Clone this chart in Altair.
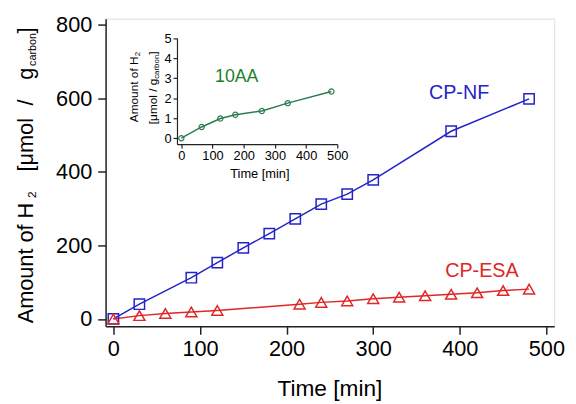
import altair as alt
import pandas as pd

# ---- data ----
nf_time = [0, 30, 90, 120, 150, 180, 210, 240, 270, 300, 390, 480]
nf_h2 = [0, 40, 112, 153, 193, 232, 272, 312, 339, 378, 510, 598]

esa_time = [0, 30, 60, 90, 120, 215, 240, 270, 300, 330, 360, 390, 420, 450, 480]
esa_h2 = [0, 9, 15, 19, 23, 40, 45, 49, 55, 59, 63, 67, 71, 77, 81]

aa_time = [0, 65, 125, 173, 258, 341, 481]
aa_h2 = [0, 0.56, 0.98, 1.17, 1.36, 1.75, 2.33]

x_ticks = [0, 100, 200, 300, 400, 500]
y_ticks = [0, 200, 400, 600, 800]
inset_x_ticks = [0, 100, 200, 300, 400, 500]
inset_y_ticks = [0, 1, 2, 3, 4, 5]

BLUE = "#2323c8"
RED = "#e02626"
GREEN_LINE = "#2a7d50"
GREEN_TEXT = "#217f2c"
AXIS = "#222222"
FONT = "Liberation Sans"

nf_df = pd.DataFrame({"t": nf_time, "h": nf_h2})
esa_df = pd.DataFrame({"t": esa_time, "h": esa_h2})
aa_df = pd.DataFrame({"t": aa_time, "h": aa_h2})

W, H = 455, 312

X = alt.X("t:Q",
          scale=alt.Scale(domain=[-9, 509], nice=False, zero=False),
          axis=alt.Axis(values=x_ticks, title=None, tickSize=8, labelFontSize=22,
                        labelPadding=5, grid=False, domainColor=AXIS, tickColor=AXIS,
                        domainWidth=1.5, tickWidth=1.5, labelColor="#000",
                        labelFlush=False, labelFont=FONT))
Y = alt.Y("h:Q",
          scale=alt.Scale(domain=[-20, 816], nice=False, zero=False),
          axis=alt.Axis(values=y_ticks, title=None, tickSize=8, labelFontSize=22,
                        labelPadding=6, grid=False, domainColor=AXIS, tickColor=AXIS,
                        domainWidth=1.5, tickWidth=1.5, labelColor="#000",
                        labelFlush=False, labelFont=FONT))


def label(text, x, y, size, color="#000", angle=0, align="left", baseline="alphabetic"):
    return alt.Chart(pd.DataFrame({"txt": [text]})).mark_text(
        font=FONT, fontSize=size, color=color, angle=angle, align=align,
        baseline=baseline
    ).encode(x=alt.value(x), y=alt.value(y), text="txt:N")


nf_line = alt.Chart(nf_df).mark_line(color=BLUE, strokeWidth=1.5).encode(x=X, y=Y)
nf_pts = alt.Chart(nf_df).mark_point(shape="square", size=110, color=BLUE,
                                     strokeWidth=1.5, filled=False, opacity=1).encode(x=X, y=Y)
esa_line = alt.Chart(esa_df).mark_line(color=RED, strokeWidth=1.5).encode(x=X, y=Y)
esa_pts = alt.Chart(esa_df).mark_point(shape="triangle-up", size=125, color=RED,
                                       strokeWidth=1.5, filled=False, opacity=1).encode(x=X, y=Y)

texts = [
    label("CP-NF", 328, 81.5, 20, BLUE),
    label("CP-ESA", 344.5, 262.5, 20, RED),
    label("10AA", 111, 64, 18, GREEN_TEXT),
    # main x title
    label("Time [min]", 227.5, 382.5, 23, align="center"),
    # main y title pieces (rotated)
    label("Amount of H", -74, 309, 22, angle=270),
    label("2", -70.3, 182, 12, angle=270),
    label("[μmol", -74, 155, 22, angle=270),
    label("/", -74, 88, 22, angle=270),
    label("g", -74, 62, 22, angle=270),
    label("carbon", -71, 48, 11, angle=270),
    label("]", -74, 15, 22, angle=270),
    # inset x title
    label("Time [min]", 156.5, 161.5, 13, align="center"),
    # inset y title pieces
    label("Amount of H", 33, 105, 12, angle=270),
    label("2", 35, 38, 8, angle=270),
    label("[μmol / g", 52, 107, 12, angle=270),
    label("carbon", 54, 61, 8, angle=270),
    label("]", 52, 36.5, 12, angle=270),
]

main = alt.layer(nf_line, esa_line, nf_pts, esa_pts, *texts)

IX = alt.X("t:Q",
           scale=alt.Scale(domain=[-14, 500], range=[72.4, 235], nice=False, zero=False),
           axis=alt.Axis(values=inset_x_ticks, orient="bottom", offset=-184.7, title=None,
                         tickSize=4, labelFontSize=13, labelPadding=2, grid=False,
                         domainColor=AXIS, tickColor=AXIS, domainWidth=1.2, tickWidth=1.2,
                         labelColor="#000", labelFlush=False, labelFont=FONT))
IY = alt.Y("h:Q",
           scale=alt.Scale(domain=[-0.3, 5], range=[127.3, 19.7], nice=False, zero=False),
           axis=alt.Axis(values=inset_y_ticks, orient="left", offset=-72.4, title=None,
                         tickSize=4, labelFontSize=13, labelPadding=2, grid=False,
                         domainColor=AXIS, tickColor=AXIS, domainWidth=1.2, tickWidth=1.2,
                         labelColor="#000", labelFlush=False, labelFont=FONT))

aa_line = alt.Chart(aa_df).mark_line(color=GREEN_LINE, strokeWidth=1.5).encode(x=IX, y=IY)
aa_pts = alt.Chart(aa_df).mark_point(shape="circle", size=28, color=GREEN_LINE,
                                     strokeWidth=1.2, filled=False, opacity=1).encode(x=IX, y=IY)
inset = alt.layer(aa_line, aa_pts)

chart = alt.layer(main, inset).resolve_scale(
    x="independent", y="independent"
).properties(
    width=W, height=H,
    autosize=alt.AutoSizeParams(type="none"),
    padding={"left": 99, "top": 8, "right": 14, "bottom": 76},
).configure_view(
    stroke=AXIS, strokeWidth=1.5
).configure(font=FONT)

chart.save("out.html", embed_options={"renderer": "svg", "actions": False})
